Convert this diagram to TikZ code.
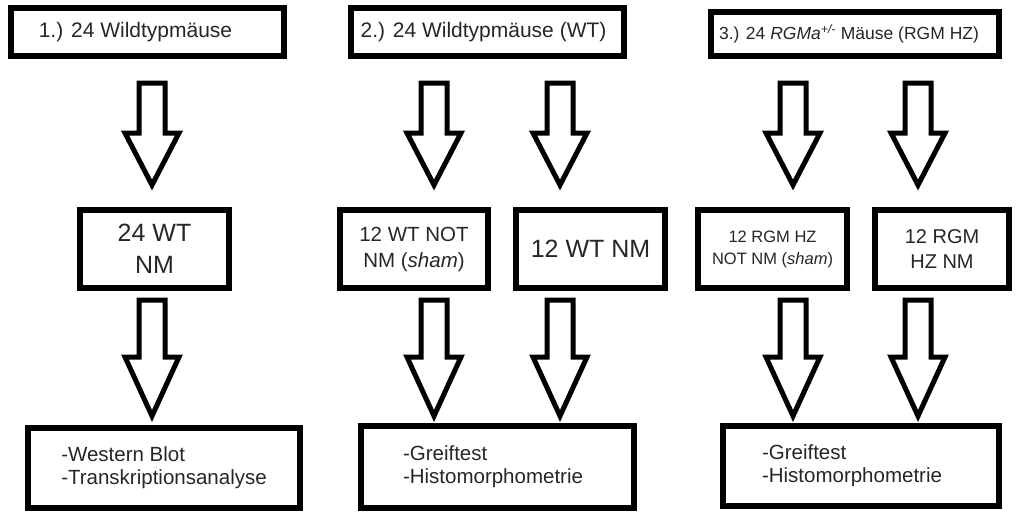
\documentclass[tikz,border=0pt]{standalone}
\usepackage{fontspec}
\setmainfont{Liberation Sans}
\usetikzlibrary{arrows.meta}

\tikzset{
  box/.style={draw, line width=6pt, inner sep=0pt, align=center, text=black!85},
  topbox/.style={box, minimum width=273, minimum height=48,
    font=\fontsize{21}{25}\selectfont},
  midbox/.style={box, minimum width=149, minimum height=78},
  resbox/.style={box, minimum width=273, minimum height=80, align=left,
    font=\fontsize{20.5}{23}\selectfont},
  pics/blockarrow/.style n args={2}{code={
    \draw[line width=5pt, fill=white]
      (-13,0) -- (13,0) -- (13,#1) -- (27,#1) -- (0,#1+#2)
      -- (-27,#1) -- (-13,#1) -- cycle;
  }}
}

\begin{document}
\begin{tikzpicture}[x=1pt, y=-1pt]
  \useasboundingbox (0,0) rectangle (1016,512);
  % Groups
  \node[topbox] (grpwt) at (147.5,32) {1.) 24 Wildtypmäuse\hspace*{24pt}};
  \node[topbox] (grpwtb) at (487.5,32) {2.) 24 Wildtypmäuse (WT)\hspace*{8pt}};
  \node[topbox, minimum width=288, minimum height=44,
    font=\fontsize{17.5}{21}\selectfont] (grphz) at (855,34)
    {3.) 24 \textit{RGMa\textsuperscript{+/-}} Mäuse (RGM HZ)\hspace*{12pt}};
  % Arrows, first row
  \pic (arrwt) at (152,83) {blockarrow={50}{52}};
  \pic (arrsham) at (434,83) {blockarrow={50}{52}};
  \pic (arrnm) at (560,83) {blockarrow={50}{52}};
  \pic (arrhzsham) at (793,83) {blockarrow={50}{52}};
  \pic (arrhznm) at (918,83) {blockarrow={50}{52}};
  % Treatment
  \node[midbox, font=\fontsize{25}{32}\selectfont] (wtnm) at (154.5,249)
    {24 WT\\NM};
  \node[midbox, minimum width=148, font=\fontsize{20.5}{26}\selectfont]
    (wtsham) at (414,249) {12 WT NOT\\NM (\textit{sham})};
  \node[midbox, font=\fontsize{25}{30}\selectfont] (wtnmb) at (590.5,249)
    {12 WT NM};
  \node[midbox, font=\fontsize{16.5}{22}\selectfont] (hzsham) at (772.5,249)
    {12 RGM HZ\\NOT NM (\textit{sham})};
  \node[midbox, minimum width=134, font=\fontsize{20}{25}\selectfont]
    (hznm) at (942,249) {12 RGM\\HZ NM};
  % Arrows, second row
  \pic (arrwtb) at (152,300) {blockarrow={57}{59}};
  \pic (arrshamb) at (434,300) {blockarrow={57}{59}};
  \pic (arrnmb) at (560,300) {blockarrow={57}{59}};
  \pic (arrhzshamb) at (793,300) {blockarrow={57}{59}};
  \pic (arrhznmb) at (918,300) {blockarrow={57}{59}};
  % Analyses
  \node[resbox, minimum width=272] (reswt) at (164,468)
    {-Western Blot\\-Transkriptionsanalyse};
  \node[resbox, minimum height=82] (reswtb) at (497,467)
    {-Greiftest\\-Histomorphometrie\hspace*{8pt}};
  \node[resbox, minimum width=276] (reshz) at (861,466)
    {-Greiftest\\-Histomorphometrie\hspace*{18pt}};
\end{tikzpicture}
\end{document}
